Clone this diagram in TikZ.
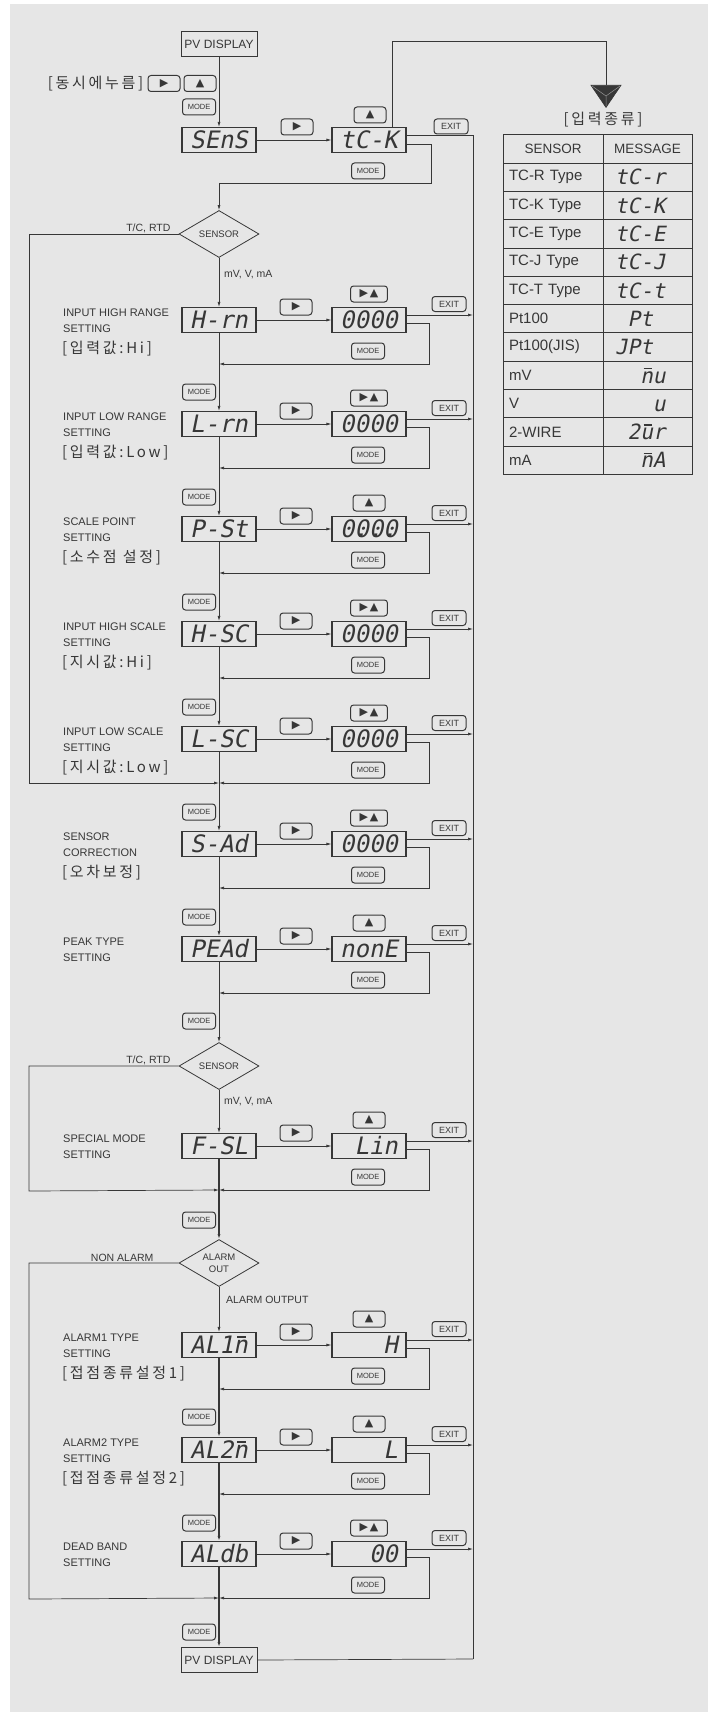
\documentclass[tikz,border=0pt]{standalone}
\usepackage{fontspec}
\usepackage{tikz}
\usetikzlibrary{arrows.meta,positioning,shapes.geometric}
\setmainfont{Liberation Sans}
\newfontfamily\krfont[LetterSpace=18]{Noto Sans CJK KR}
\newfontfamily\segfont[FakeSlant=0.2]{DejaVu Sans Mono}
\newfontfamily\keyfont{DejaVu Sans}
\definecolor{mybg}{RGB}{230,230,230}
\definecolor{myline}{RGB}{55,55,55}
\definecolor{myshade}{RGB}{150,150,150}
\newcommand{\bk}{\phantom{0}}
\newcommand{\dotd}{\rlap{\kern-1pt.}}
\newcommand{\segm}{\rlap{\kern0.16em\raisebox{0.66em}{\rule{0.38em}{0.07em}}}n}
\newcommand{\segw}{\rlap{\kern0.16em\raisebox{0.66em}{\rule{0.38em}{0.07em}}}u}
\newcommand{\rkey}{▶}
\newcommand{\ukey}{▲}
\newcommand{\rukey}{▶\hspace{2pt}▲}

\begin{document}
\begin{tikzpicture}[x=1pt, y=-1pt, text=myline,
    wire/.style={draw=myline, line width=0.7pt},
    mainwire/.style={draw=myline, line width=1.5pt},
    arr/.style={-{Latex[length=5pt,width=3pt]}},
    disp/.style={draw=myline, line width=1.1pt, minimum width=74pt,
      minimum height=25pt, inner sep=0pt,
      font=\segfont\fontsize{24}{24}\selectfont},
    pvbox/.style={draw=myline, line width=1pt, minimum width=76pt,
      minimum height=25pt, inner sep=0pt, font=\fontsize{12}{12}\selectfont},
    keybtn/.style={draw=myline, line width=1pt, rounded corners=3pt,
      minimum width=32pt, minimum height=16pt, inner xsep=9pt, inner ysep=0pt,
      font=\keyfont\fontsize{11}{11}\selectfont},
    modebtn/.style={draw=myline, line width=1pt, rounded corners=3pt,
      minimum width=33pt, minimum height=16pt, inner sep=0pt,
      font=\fontsize{7.5}{8}\selectfont},
    exitbtn/.style={modebtn, minimum width=34pt, minimum height=15pt,
      font=\fontsize{9}{9}\selectfont},
    lbl/.style={anchor=base west, inner sep=0pt, font=\fontsize{11}{13}\selectfont},
    krlbl/.style={inner sep=0pt, font=\krfont\fontsize{15}{17}\selectfont},
    ask/.style={diamond, draw=myline, line width=0.8pt, aspect=1.7,
      minimum width=80pt, minimum height=47pt, inner sep=0pt, align=center,
      font=\fontsize{9.5}{12}\selectfont},
    note/.style={inner sep=1pt, font=\fontsize{10.5}{12}\selectfont},
    cell/.style={draw=myline, line width=1pt, minimum height=28.3pt,
      inner ysep=0pt, font=\fontsize{15}{15}\selectfont},
  ]
  \useasboundingbox (0,0) rectangle (712,1712);
  \fill[mybg] (10,4) rectangle (708,1712);

  % entry from PV display
  \node[pvbox] (pvtop) at (219,44.5) {PV DISPLAY};
  \node[keybtn] (kr0) at (164,83.5) {\rkey};
  \node[keybtn, right=3pt of kr0] (ku0) {\ukey};
  \node[krlbl, left=4pt of kr0] (push) {[동시에누름]};
  \node[modebtn] (mb0) at (199,107) {MODE};
  \node[disp] (sens) at (219,140) {SEnS};
  \node[disp] (tck) at (369,140) {tC-K};
  \node[keybtn] (kr1) at (297,127) {\rkey};
  \node[keybtn] (ku1) at (370,115) {\ukey};
  \node[exitbtn] (ex0) at (451,126.5) {EXIT};
  \node[modebtn] (mv0) at (368,171) {MODE};
  \draw[wire,arr] (pvtop.south) -- (sens.north);
  \draw[wire,arr] (sens.east) -- (tck.west);

  % exit bus
  \coordinate (bustop) at (473,135);
  \coordinate (busbot) at (473,1659);
  \draw[wire] ([yshift=5pt]tck.east) -- (bustop) -- (busbot);

  % to the sensor table
  \coordinate (ttop) at (606,41);
  \coordinate (tri) at (606,108);
  \draw[wire,-{Triangle[length=23pt,width=31pt]}] ([xshift=23pt]tck.north) |- (ttop) -- (tri);
  \draw[myshade, line width=0.5pt] (592,86) -- (606,96) -- (620,86) (606,96) -- (606,106);
  \node[krlbl] (kind) at (603,120) {[입력종류]};
  \node[cell, minimum width=100pt, font=\fontsize{13.5}{14}\selectfont] (hs) at (553,149) {SENSOR};
  \node[cell, minimum width=89pt, font=\fontsize{13.5}{14}\selectfont] (hm) at (647.5,149) {MESSAGE};
  \foreach [count=\i] \s/\m in {TC-R Type/tC-r, TC-K Type/tC-K, TC-E Type/tC-E,
      TC-J Type/tC-J, TC-T Type/tC-t, Pt100/\bk Pt\bk, Pt100(JIS)/JPt\bk,
      mV/\bk\bk\segm u, V/\bk\bk\bk u, 2-WIRE/\bk 2\segw r, mA/\bk\bk\segm A}{
    \node[cell, minimum width=100pt, text width=88pt, align=left] (s\i) at (553,149+28.3*\i) {\s};
    \node[cell, minimum width=89pt, text width=65pt, align=left,
          font=\segfont\fontsize{21}{21}\selectfont] (m\i) at (647.5,149+28.3*\i) {\m};
  }

  % sensor branch
  \node[ask] (dec1) at (219,234) {SENSOR};
  \coordinate (sensr) at (219,183);
  \draw[wire] ([yshift=-4pt]tck.east) -- ++(25,0) |- (sensr);
  \draw[wire,arr] (sensr) -- (dec1.north);
  \node[note, anchor=south east] (tcrtd1) at ([xshift=-7pt]dec1.west) {T/C, RTD};
  \node[note, anchor=west] (mvva1) at ([xshift=4pt,yshift=-17pt]dec1.south) {mV, V, mA};

  % setting rows
  \foreach \nm/\cy/\disp/\key/\val/\la/\lb/\lc in {
      hrn/320/H-rn/\rukey/0000/INPUT HIGH RANGE/SETTING/[입력값:Hi],
      lrn/424/L-rn/\rukey/0000/INPUT LOW RANGE/SETTING/[입력값:Low],
      pst/529/P-St/\ukey/{0\dotd0\dotd0\dotd0}/SCALE POINT/SETTING/[소수점 설정],
      hsc/634/H-SC/\rukey/0000/INPUT HIGH SCALE/SETTING/[지시값:Hi],
      lsc/739/L-SC/\rukey/0000/INPUT LOW SCALE/SETTING/[지시값:Low],
      sad/844/S-Ad/\rukey/0000/SENSOR/CORRECTION/[오차보정],
      pead/949/PEAd/\ukey/nonE/PEAK TYPE/SETTING/{},
      fsl/1146/F-SL/\ukey/\bk Lin/SPECIAL MODE/SETTING/{},
      aln1/1345/AL1\segm/\ukey/\bk\bk\bk H/ALARM1 TYPE/SETTING/[접점종류설정1],
      aln2/1450/AL2\segm/\ukey/\bk\bk\bk L/ALARM2 TYPE/SETTING/[접점종류설정2],
      aldb/1554/ALdb/\rukey/\bk\bk 00/DEAD BAND/SETTING/{}}{
    \node[disp] (\nm) at (219,\cy) {\disp};
    \node[disp] (\nm v) at (369,\cy) {\val};
    \node[keybtn] (\nm k) at (296,\cy-13) {\rkey};
    \node[keybtn] (\nm u) at (369,\cy-26) {\key};
    \node[exitbtn] (\nm e) at (449,\cy-16) {EXIT};
    \node[modebtn] (\nm m) at (368,\cy+31) {MODE};
    \node[lbl] (\nm a) at (63,\cy-4) {\la};
    \node[lbl] (\nm b) at (63,\cy+12) {\lb};
    \node[krlbl, anchor=base west] (\nm c) at (62,\cy+33) {\lc};
    \coordinate (\nm x) at (473,\cy-5);
    \coordinate (\nm r) at (219,\cy+44);
    \draw[wire,arr] (\nm.east) -- (\nm v.west);
    \draw[wire,arr] ([yshift=5pt]\nm v.east) -- (\nm x);
    \draw[wire,arr] ([yshift=-3pt]\nm v.east) -- ++(23,0) |- (\nm r);
  }

  % mode keys on the main line
  \foreach [count=\i] \y in {392,497,602,707,812,917,1021,1220,1417,1523,1632}
    \node[modebtn] (mb\i) at (199,\y) {MODE};

  \node[ask] (dec2) at (219,1066) {SENSOR};
  \node[note, anchor=south east] (tcrtd2) at ([xshift=-7pt]dec2.west) {T/C, RTD};
  \node[note, anchor=west] (mvva2) at ([xshift=4pt,yshift=-12pt]dec2.south) {mV, V, mA};
  \node[ask] (dec3) at (219,1263) {ALARM\\OUT};
  \node[note, anchor=south east] (nonal) at ([xshift=-24pt]dec3.west) {NON ALARM};
  \node[note, anchor=west] (alout) at ([xshift=6pt,yshift=-13pt]dec3.south) {ALARM OUTPUT};
  \node[pvbox] (pvbot) at (219,1660) {PV DISPLAY};

  % main line
  \draw[wire,arr] (dec1.south) -- (hrn.north);
  \foreach \a/\b in {hrn/lrn, lrn/pst, pst/hsc, hsc/lsc, lsc/sad, sad/pead}
    \draw[wire,arr] (\a.south) -- (\b.north);
  \draw[wire,arr] (pead.south) -- (dec2.north);
  \draw[wire,arr] (dec2.south) -- (fsl.north);
  \draw[mainwire,arr] (fsl.south) -- (dec3.north);
  \draw[wire,arr] (dec3.south) -- (aln1.north);
  \foreach \a/\b in {aln1/aln2, aln2/aldb, aldb/pvbot}
    \draw[mainwire,arr] (\a.south) -- (\b.north);
  \draw[wire] (pvbot.east) -- (busbot);

  % skip loops
  \coordinate (loop1) at (29,783);
  \draw[wire,arr] (dec1.west) -| (loop1) -- (lscr);
  \coordinate (loop2) at (29,1191);
  \draw[wire,arr] (dec2.west) -| (loop2) -- (fslr);
  \coordinate (loop3) at (29,1599);
  \draw[wire,arr] (dec3.west) -| (loop3) -- (aldbr);
\end{tikzpicture}
\end{document}
